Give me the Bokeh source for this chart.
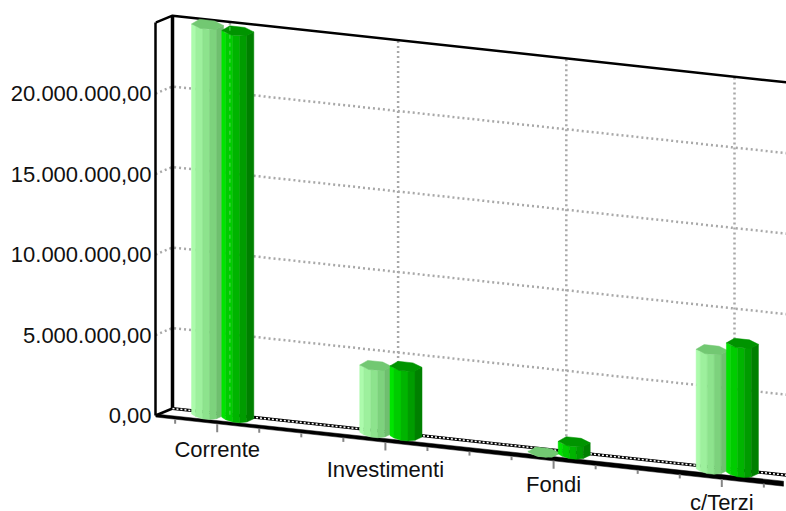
from bokeh.plotting import figure
from bokeh.models import Range1d, FixedTicker
from bokeh.core.properties import value
from bokeh.embed import file_html
from bokeh.resources import INLINE

# ---- data ----
CATEGORIES = ["Corrente", "Investimenti", "Fondi", "c/Terzi"]
SERIES_A = [24350000, 4300000, 50000, 7550000]
SERIES_B = [24150000, 4450000, 900000, 8150000]
TICK_VALUES = [0, 5000000, 10000000, 15000000, 20000000]
TICK_LABELS = ["0,00", "5.000.000,00", "10.000.000,00", "15.000.000,00", "20.000.000,00"]
WALL_TOP = 24400000

# ---- look ----
FONT = "Liberation Sans"
COLORS_A = ["#ACFBAC", "#9DF09D", "#8DE38D", "#7DD27D", "#6FBF6F"]
COLORS_B = ["#00E400", "#00CC00", "#00B400", "#009C00", "#008000"]
CAP_A, CAP_B = "#72C872", "#009400"
LABEL_DROP = [27, 29, 26, 25]

# ---- oblique projection (page scale of the chart) ----
W, H = 786, 511
PX_CAT = 168.2        # px per category
PX_VAL = 16.1 / 1e6   # px per currency unit
C0_PX = 216.7         # page x of the first category tick
LEFT_PX, ZERO_PX = 155.0, 415.0
SHEAR = 0.1086
DEPTH_X, DEPTH_Y = 17.0, 7.0
C_LEFT = (LEFT_PX - C0_PX) / PX_CAT
C_RIGHT = (W - C0_PX) / PX_CAT


def proj(c, v=0.0, depth=0.0, dx=0.0, dy=0.0):
    """category position, value, wall depth (0..1), pixel nudges -> data coords"""
    xx = c + (depth * DEPTH_X + dx) / PX_CAT
    yy = v - (SHEAR * (xx - depth * DEPTH_X / PX_CAT - C_LEFT) * PX_CAT - depth * DEPTH_Y + dy) / PX_VAL
    return xx, yy


p = figure(width=W, height=H, output_backend="svg", toolbar_location=None,
           x_range=Range1d(C_LEFT, C_RIGHT),
           y_range=Range1d((ZERO_PX - H) / PX_VAL, ZERO_PX / PX_VAL),
           x_axis_location=None, min_border_left=int(LEFT_PX), min_border_right=0,
           min_border_top=0, min_border_bottom=0)
p.outline_line_color = None
p.grid.visible = False
p.background_fill_color = "white"

ax = p.yaxis[0]
ax.ticker = FixedTicker(ticks=TICK_VALUES)
ax.major_label_overrides = dict(zip(TICK_VALUES, TICK_LABELS))
ax.major_label_text_font = FONT
ax.major_label_text_font_size = "22px"
ax.major_label_text_color = "#111111"
ax.major_label_standoff = 4
ax.major_tick_out = 0
ax.major_tick_in = 0
ax.minor_tick_out = 0
ax.minor_tick_in = 0
ax.axis_line_color = "black"
ax.axis_line_width = 2.5
ax.bounds = (0, WALL_TOP)


def line(pts, **kw):
    p.line([q[0] for q in pts], [q[1] for q in pts], **kw)


GRID = dict(line_color="#A8A8A8", line_width=2.5, line_dash="2 3")
# horizontal grid: side wall then back wall
for t in TICK_VALUES[1:]:
    line([proj(C_LEFT, t), proj(C_LEFT, t, 1), proj(C_RIGHT, t, 1)], **GRID)
# vertical grid on the back wall
for i in range(len(CATEGORIES)):
    c = i - 4.3 / PX_CAT
    line([proj(c, 0, 1), proj(c, WALL_TOP, 1)], **GRID)

# walls
line([proj(C_LEFT, WALL_TOP), proj(C_LEFT, WALL_TOP, 1), proj(C_RIGHT, WALL_TOP, 1)],
     line_color="black", line_width=2.5)
line([proj(C_LEFT, 0, 1), proj(C_LEFT, WALL_TOP, 1)], line_color="black", line_width=3.5)
line([proj(C_LEFT, 0), proj(C_LEFT, 0, 1)], line_color="black", line_width=2.5)
line([proj(C_LEFT, 0, 1), proj(C_RIGHT, 0, 1)], line_color="black", line_width=3)
line([proj(C_LEFT, 0, 1), proj(C_RIGHT, 0, 1)], line_color="white", line_width=1.5, line_dash="2 2")

# front floor edge: a wedge that thickens to the right
end = (783 - C0_PX) / PX_CAT
a0, a1 = proj(C_LEFT, 0, 0, 0, -1.5), proj(end, 0, 0, 0, -2.5)
b1, b0 = proj(end, 0, 0, 0, 2.5), proj(C_LEFT, 0, 0, 0, 1.5)
p.patch([a0[0], a1[0], b1[0], b0[0]], [a0[1], a1[1], b1[1], b0[1]], color="black", line_width=0.5)

# category ticks
TICK_COLOR = "#858585"
for k in range(-1, 15):
    c = k / 4
    major = k % 4 == 0
    line([proj(c, 0, 0, 0, 2), proj(c, 0, 0, 0, 10 if major else 6)], line_color=TICK_COLOR, line_width=2)

# bars: a six-sided prism
U = [-16, -12, -5, 2, 9, 16]            # px across the visible faces
V = [1, 3, 4.5, 4.5, 3, -1]             # px down the front of the outline
CAP_U = [-16, -8, 7, 16, 8, -7]
CAP_V = [1, -4.5, -4.5, -1, 4, 4.5]
FOOT = -2                               # px the foot sits above the floor mid-line


def bar(c, val, colors, cap):
    top = [proj(c, val, 0.5, u, w) for u, w in zip(U, V)]
    bot = [proj(c, 0, 0.5, u, w + FOOT) for u, w in zip(U, V)]
    for j, col in enumerate(colors):
        quad = [top[j], top[j + 1], bot[j + 1], bot[j]]
        p.patch([q[0] for q in quad], [q[1] for q in quad], fill_color=col, line_color=col, line_width=0.5)
    ring = [proj(c, val, 0.5, u, w) for u, w in zip(CAP_U, CAP_V)]
    p.patch([q[0] for q in ring], [q[1] for q in ring], fill_color=cap, line_color=cap, line_width=0.5)


for i, (a, b) in enumerate(zip(SERIES_A, SERIES_B)):
    bar(i - 0.108, a, COLORS_A, CAP_A)
    bar(i + 0.072, b, COLORS_B, CAP_B)

# faint grid line that shows through the first dark bar
c = 0 - 4.3 / PX_CAT
line([proj(c, 0, 1), proj(c, SERIES_B[0], 1)], line_color="#55D855", line_width=1, line_dash="4 4")

# category labels
lab = [proj(i) for i in range(len(CATEGORIES))]
p.text([q[0] for q in lab], [q[1] for q in lab], text=CATEGORIES, y_offset=LABEL_DROP,
       text_align="center", text_baseline="middle", text_color="#111111",
       text_font=value(FONT), text_font_size="22px")

open("out.html", "w").write(file_html(p, INLINE))
